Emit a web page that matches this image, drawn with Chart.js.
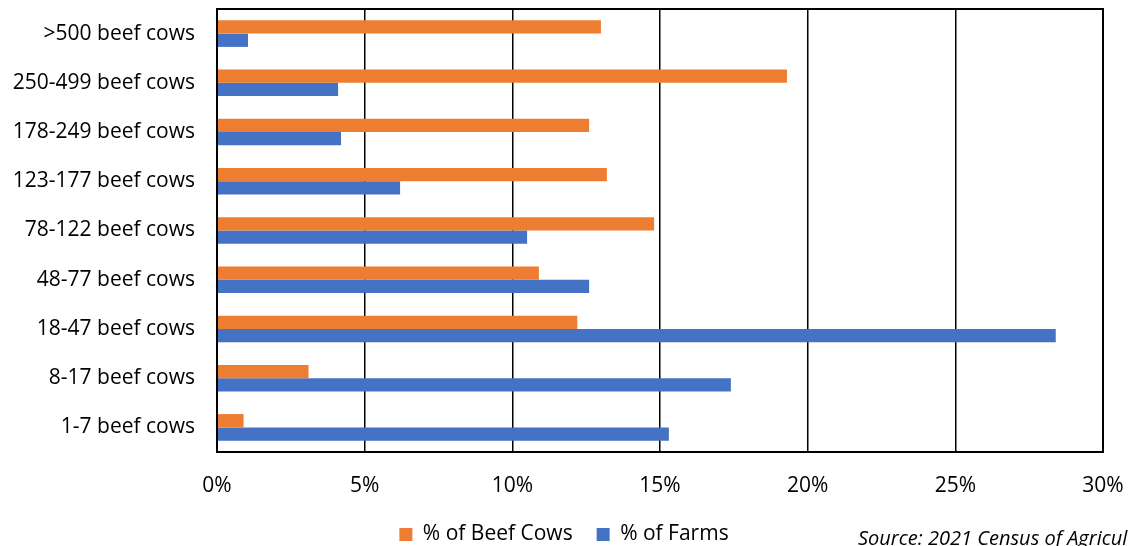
<!DOCTYPE html>
<html lang="en">
<head>
  <meta charset="UTF-8">
  <script src="https://cdn.jsdelivr.net/npm/chart.js"></script>
  <style>
    html, body { margin: 0; padding: 0; background: #fff; }
    .chart-box { position: relative; width: 1128px; height: 546px; }
  </style>
</head>
<body>
  <div class="chart-box">
    <canvas id="herdChart"></canvas>
  </div>

  <script>
    const herdSizes = ['>500 beef cows', '250-499 beef cows', '178-249 beef cows', '123-177 beef cows',
      '78-122 beef cows', '48-77 beef cows', '18-47 beef cows', '8-17 beef cows', '1-7 beef cows'];
    const beefCowsPct = [13.0, 19.3, 12.6, 13.2, 14.8, 10.9, 12.2, 3.1, 0.9];
    const farmsPct = [1.05, 4.1, 4.2, 6.2, 10.5, 12.6, 28.4, 17.4, 15.3];
    const xTicks = [0, 5, 10, 15, 20, 25, 30];
    const sourceNote = 'Source: 2021 Census of Agricult';

    const fontName = "'Open Sans', 'Noto Sans', sans-serif";

    // frame around the plot area plus the source line at the bottom right
    const framePlugin = {
      id: 'frame',
      afterDraw(chart) {
        const { ctx, chartArea } = chart;
        ctx.save();
        ctx.strokeStyle = '#000';
        ctx.lineWidth = 2;
        ctx.strokeRect(chartArea.left, chartArea.top, chartArea.right - chartArea.left, chartArea.bottom - chartArea.top);
        ctx.font = 'italic 20px ' + fontName;
        ctx.fillStyle = '#000';
        ctx.textBaseline = 'middle';
        ctx.fillText(sourceNote, 858, 539);
        ctx.restore();
      }
    };

    new Chart(document.getElementById('herdChart'), {
      type: 'bar',
      data: {
        labels: herdSizes,
        datasets: [{
          label: '% of Beef Cows',
          data: beefCowsPct,
          backgroundColor: '#ED7D31',
        }, {
          label: '% of Farms',
          data: farmsPct,
          backgroundColor: '#4472C4',
        }]
      },
      options: {
        indexAxis: 'y',
        responsive: true,
        maintainAspectRatio: false,
        animation: false,
        layout: { padding: { left: 0, right: 0, top: 9, bottom: -9 } },
        datasets: {
          bar: { categoryPercentage: 0.54, barPercentage: 1.0 }
        },
        scales: {
          x: {
            min: 0,
            max: 30,
            afterBuildTicks(scale) {
              scale.ticks = xTicks.map(v => ({ value: v }));
            },
            afterFit(scale) {
              scale.height = 48;
              scale.paddingLeft = 0;
              scale.paddingRight = 25;
            },
            grid: { color: '#000', lineWidth: 1.5, drawTicks: false },
            border: { display: false },
            ticks: {
              padding: 21,
              color: '#000',
              font: { family: fontName, size: 21 },
              callback: v => v + '%'
            }
          },
          y: {
            afterFit(scale) {
              scale.width = 217;
              scale.paddingTop = 0;
              scale.paddingBottom = 0;
            },
            grid: { display: false, drawTicks: false },
            border: { display: false },
            ticks: {
              padding: 22,
              color: '#000',
              font: { family: fontName, size: 21 }
            }
          }
        },
        plugins: {
          legend: {
            position: 'bottom',
            labels: {
              boxWidth: 13,
              boxHeight: 13,
              padding: 24,
              color: '#000',
              font: { family: fontName, size: 21 }
            }
          },
          tooltip: { enabled: false }
        }
      },
      plugins: [framePlugin]
    });
  </script>
</body>
</html>
